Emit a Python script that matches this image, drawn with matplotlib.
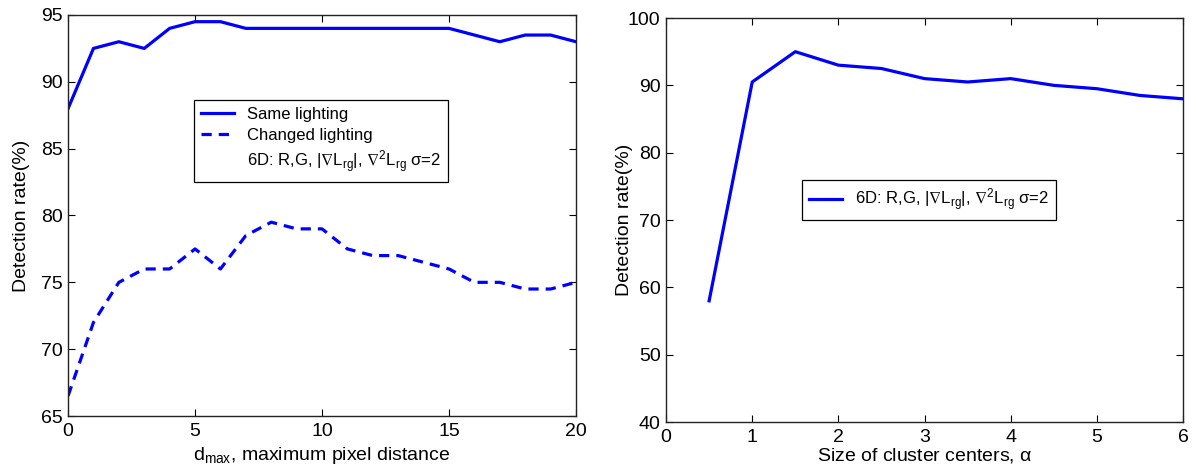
import numpy as np
import matplotlib
matplotlib.use('Agg')
import matplotlib.pyplot as plt
from matplotlib.lines import Line2D

plt.rcParams['font.family'] = ['Liberation Sans', 'DejaVu Sans']
plt.rcParams['mathtext.fontset'] = 'custom'
plt.rcParams['mathtext.rm'] = 'Liberation Sans'
plt.rcParams['mathtext.it'] = 'Liberation Sans'
plt.rcParams['mathtext.sf'] = 'Liberation Sans'
plt.rcParams['mathtext.fallback'] = 'stixsans'
plt.rcParams['font.size'] = 14

# deteccion vs distancia maxima de pixel
d_max = list(range(0, 21))
misma_luz = [88, 92.5, 93, 92.5, 94, 94.5, 94.5, 94, 94, 94, 94, 94, 94, 94, 94, 94,
             93.5, 93, 93.5, 93.5, 93]
luz_cambiada = [66.5, 72, 75, 76, 76, 77.5, 76, 78.5, 79.5, 79, 79, 77.5, 77, 77, 76.5, 76,
                75, 75, 74.5, 74.5, 75]

# deteccion vs tamano de los centros de cluster
alpha = [0.5, 1, 1.5, 2, 2.5, 3, 3.5, 4, 4.5, 5, 5.5, 6]
tasa_alpha = [58, 90.5, 95, 93, 92.5, 91, 90.5, 91, 90, 89.5, 88.5, 88]

etiqueta_6d = r'6D: R,G, $|\nabla\mathrm{L}_{\mathrm{rg}}|$, $\nabla^2\mathrm{L}_{\mathrm{rg}}$ $\sigma$=2'
azul = '#0000ff'
lw = 2.3


def estilo(ax):
    ax.tick_params(direction='in', top=True, right=True, length=5, width=0.8, labelsize=14)
    ax.tick_params(axis='x', pad=5)
    ax.tick_params(axis='y', pad=4)
    for s in ax.spines.values():
        s.set_linewidth(1.0)
        s.set_color('#222222')


fig = plt.figure(figsize=(11.96, 4.73), dpi=100)

ax1 = fig.add_axes([0.0569, 0.1205, 0.4247, 0.8478])
ax1.plot(d_max, misma_luz, color=azul, lw=lw, label='Same lighting')
ax1.plot(d_max, luz_cambiada, color=azul, lw=lw, dashes=(3.2, 2.2), label='Changed lighting')
ax1.set_xlim(0, 20)
ax1.set_ylim(65, 95)
ax1.set_xticks([0, 5, 10, 15, 20])
ax1.set_yticks([65, 70, 75, 80, 85, 90, 95])
ax1.set_xlabel(r'd$_{\mathrm{max}}$, maximum pixel distance')
ax1.xaxis.set_label_coords(0.5, -0.072)
ax1.set_ylabel('Detection rate(%)')
ax1.yaxis.set_label_coords(-0.075, 0.5)
estilo(ax1)
h, l = ax1.get_legend_handles_labels()
h.append(Line2D([], [], color='none'))
l.append(etiqueta_6d)
leg1 = ax1.legend(h, l, loc='upper left', bbox_to_anchor=(0.248, 0.788), borderaxespad=0,
                  fancybox=False, framealpha=1, edgecolor='black', fontsize=12,
                  handlelength=2.0, labelspacing=0.35, borderpad=0.4)
leg1.get_frame().set_linewidth(0.9)

ax2 = fig.add_axes([0.5569, 0.1078, 0.4323, 0.8541])
ax2.plot(alpha, tasa_alpha, color=azul, lw=lw, label=etiqueta_6d)
ax2.set_xlim(0, 6)
ax2.set_ylim(40, 100)
ax2.set_xticks(range(0, 7))
ax2.set_yticks(range(40, 101, 10))
ax2.set_xlabel(r'Size of cluster centers, $\alpha$')
ax2.xaxis.set_label_coords(0.5, -0.06)
ax2.set_ylabel('Detection rate(%)')
ax2.yaxis.set_label_coords(-0.064, 0.5)
estilo(ax2)
leg2 = ax2.legend(loc='upper left', bbox_to_anchor=(0.263, 0.599), borderaxespad=0,
                  fancybox=False, framealpha=1, edgecolor='black', fontsize=12,
                  handlelength=2.0, borderpad=0.4)
leg2.get_frame().set_linewidth(0.9)

fig.savefig('out.png', dpi=100)
